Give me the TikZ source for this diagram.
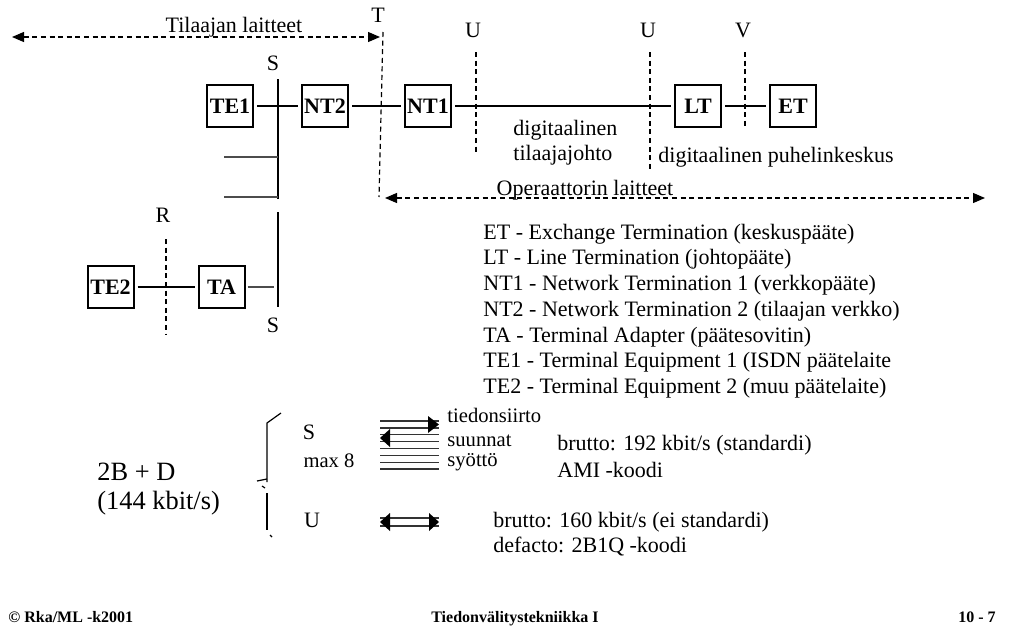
\documentclass[tikz,border=0pt]{standalone}
\usepackage{fontspec}
\setmainfont{Liberation Serif}
\usetikzlibrary{arrows.meta}

\begin{document}
\begin{tikzpicture}[x=0.5pt, y=-0.5pt, font=\fontsize{11}{13}\selectfont,
    unit/.style={draw, line width=1pt, font=\fontsize{11}{13}\selectfont\bfseries,
      minimum width=23pt, minimum height=21pt, inner sep=0pt},
    wire/.style={line width=0.7pt, shorten <=1.5pt, shorten >=1.5pt},
    bus/.style={line width=0.7pt},
    stub/.style={line width=0.8pt, black!70},
    refline/.style={line width=0.6pt, dash pattern=on 2.5pt off 1.8pt},
    span/.style={refline, {Triangle[length=6pt,width=5pt]}-{Triangle[length=6pt,width=5pt]}},
    small/.style={font=\fontsize{10.3}{11}\selectfont},
    foot/.style={font=\fontsize{8}{10}\selectfont\bfseries, inner sep=0pt}]
  \useasboundingbox (0,0) rectangle (1019,633);

  % equipment boxes
  \node[unit] (te1) at (230,106) {TE1};
  \node[unit] (nt2) at (325,106) {NT2};
  \node[unit] (nt1) at (428,106) {NT1};
  \node[unit] (lt)  at (698,106) {LT};
  \node[unit] (et)  at (793,106) {ET};
  \node[unit] (te2) at (110.5,287) {TE2};
  \node[unit] (ta)  at (221.5,287) {TA};

  % S bus
  \coordinate (s1) at (278,79);
  \coordinate (s2) at (278,199);
  \coordinate (s3) at (278,212);
  \coordinate (s4) at (278,307);
  \draw[bus] (s1) -- (s2) (s3) -- (s4);
  \coordinate (b1) at (224,157);
  \coordinate (b2) at (224,197);
  \draw[stub] (b1) -- (b1 -| s1);
  \draw[stub] (b2) -- (b2 -| s1);
  \draw[stub, shorten <=1pt, shorten >=2pt] (ta.east) -- (ta.east -| s1);

  % links
  \draw[wire] (te1) -- (nt2);
  \draw[wire] (nt2) -- (nt1);
  \draw[wire] (nt1) -- (lt);
  \draw[wire] (lt) -- (et);
  \draw[wire] (te2) -- (ta);

  % reference points
  \draw[refline] (383,32) -- (379,197);
  \draw[refline] (476,52) -- (476,155);
  \draw[refline] (650,52) -- (650,170);
  \draw[refline] (745,52) -- (745,128);
  \draw[refline] (166,239) -- (166,334);
  \node at (378,15) {T};
  \node at (273,63) {S};
  \node at (273,325) {S};
  \node at (473,30) {U};
  \node at (648,30) {U};
  \node at (743,30) {V};
  \node at (163,215) {R};

  % customer / operator spans
  \coordinate (c1) at (12,37);
  \coordinate (c2) at (380,37);
  \draw[span] (c1) -- (c2);
  \node[anchor=base] at (234,32) {Tilaajan laitteet};
  \coordinate (o1) at (385,198);
  \coordinate (o2) at (985,198);
  \draw[span] (o1) -- (o2);
  \node[anchor=base] at (585,195) {Operaattorin laitteet};

  \node[anchor=west, align=left, inner sep=0pt] at (513,143) {digitaalinen\\[-0.5pt]tilaajajohto};
  \node at (776,157) {digitaalinen puhelinkeskus};

  % legend
  \foreach \entry [count=\i from 0] in {
      ET - Exchange Termination (keskuspääte),
      LT - Line Termination (johtopääte),
      NT1 - Network Termination 1 (verkkopääte),
      NT2 - Network Termination 2 (tilaajan verkko),
      TA - Terminal Adapter (päätesovitin),
      TE1 - Terminal Equipment 1 (ISDN päätelaite,
      TE2 - Terminal Equipment 2 (muu päätelaite)}
    \node[anchor=west, inner sep=0pt] at (483,{234+25.7*\i}) {\entry};

  % interfaces
  \draw[line width=0.6pt] (281,413) -- (267,423) -- (267,482);
  \draw[line width=0.6pt] (257,481) -- (267,479);
  \draw[line width=0.6pt] (262,486) -- (265,488);
  \draw[line width=0.6pt] (267,493) -- (267,530);
  \draw[line width=0.6pt] (270,535) -- (272,537);
  \node[anchor=west, inner sep=0pt, font=\fontsize{13.2}{15}\selectfont] at (97,472) {2B + D};
  \node[anchor=west, inner sep=0pt, font=\fontsize{13.2}{15}\selectfont] at (97,503) {(144 kbit/s)};
  \node at (309,432) {S};
  \node[small] at (329,461) {max 8};
  \node at (312,520) {U};

  \foreach \y in {421,428,434.5,441.5,448.5,455.5,462.5,469}
    \draw[line width=0.7pt, black!80] (380,\y) -- (439,\y);
  \fill (428,416) -- (439,424.5) -- (428,433) -- cycle;
  \fill (390,429) -- (380,438) -- (390,447) -- cycle;
  \foreach \y in {518,526}
    \draw[line width=0.7pt, black!80] (380,\y) -- (439,\y);
  \fill (390,513) -- (380,522) -- (390,531) -- cycle;
  \fill (429,513) -- (439,522) -- (429,531) -- cycle;

  \node[small, anchor=west, inner sep=0pt] at (447,415) {tiedonsiirto};
  \node[small, anchor=base west, inner sep=0pt] at (447,446) {suunnat};
  \node[small, anchor=base west, inner sep=0pt] at (447,466) {syöttö};
  \node[anchor=west, inner sep=0pt] at (557,445) {brutto: 192 kbit/s (standardi)};
  \node[anchor=west, inner sep=0pt] at (557,470) {AMI -koodi};
  \node[anchor=west, inner sep=0pt] at (493,522) {brutto: 160 kbit/s (ei standardi)};
  \node[anchor=west, inner sep=0pt] at (493,547) {defacto: 2B1Q -koodi};

  % footer
  \node[foot, anchor=base west] at (8,622) {© Rka/ML -k2001};
  \node[foot, anchor=base] at (515,622) {Tiedonvälitystekniikka I};
  \node[foot, anchor=base east] at (996,622) {10 - 7};
\end{tikzpicture}
\end{document}
